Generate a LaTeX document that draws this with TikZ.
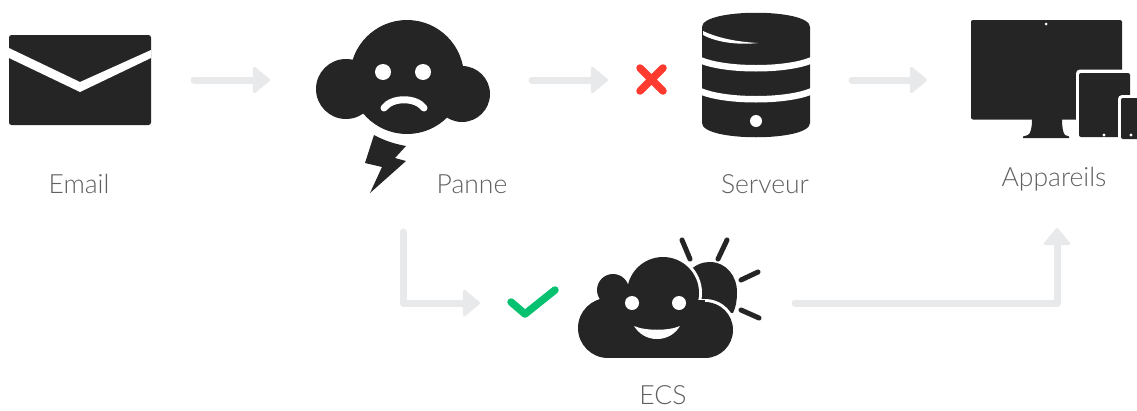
\documentclass[tikz,border=0pt]{standalone}
\usepackage{fontspec}
\setmainfont{Lato}[UprightFont=* Light]
\usetikzlibrary{arrows.meta}
\definecolor{ink}{HTML}{252525}
\definecolor{flowgray}{HTML}{E8E9EA}
\definecolor{labelgray}{HTML}{606060}
\definecolor{okgreen}{HTML}{06C270}
\definecolor{badred}{HTML}{FF3B30}
\tikzset{
  flow/.style={draw=flowgray,line width=7pt,line cap=round,line join=round,-{Triangle[round,length=18pt,width=29pt,line width=3pt,fill=flowgray]}},
  label/.style={anchor=base,text=labelgray,font=\fontsize{26.5}{30}\selectfont,inner sep=0pt},
  icon/.style={fill=ink,draw=none},
  cut/.style={draw=white,line cap=round},
  hole/.style={fill=white,draw=none}
}
\begin{document}
\begin{tikzpicture}[x=1pt,y=-1pt]
\useasboundingbox (0,0) rectangle (1137,410);
% email
\fill[icon,rounded corners=2.5pt] (9,35) rectangle (151,125);
\fill[white] (9,48) -- (80,82) -- (151,50) -- (151,58) -- (80,92) -- (9,58) -- cycle;
% sad cloud
\fill[icon] (407,77) circle[radius=57pt] (346,89) circle[radius=30pt] (462,94) circle[radius=28pt];
\fill[hole] (383,72) circle[radius=8pt] (423,72) circle[radius=8pt];
\draw[cut,line width=7pt] (384,108) .. controls (392,97) and (416,97) .. (424,108);
\fill[icon] (374,135) .. controls (385,141) and (395,144) .. (406,146) -- (395,158) -- (406,161) -- (370,193) -- (382,167) -- (365,163) -- cycle;
% cross
\draw[badred,line width=7.5pt,line cap=round] (640,68) -- (663,91) (663,68) -- (640,91);
% database
\fill[icon] (702,27) .. controls (702,8) and (810,8) .. (810,27) -- (810,123) .. controls (810,142) and (702,142) .. (702,123) -- cycle;
\draw[white,line width=6.5pt] (700,60) .. controls (725,71) and (787,71) .. (812,60);
\draw[white,line width=6.5pt] (700,91) .. controls (725,102) and (787,102) .. (812,91);
\fill[white] (703,31) .. controls (720,39) and (740,42) .. (758,43) .. controls (740,45) and (718,43) .. (703,35) -- cycle;
\fill[hole] (756,121) circle[radius=6pt];
% devices
\fill[icon,rounded corners=2pt] (971,20) rectangle (1122,119.5);
\fill[icon] (1032,119) -- (1062,119) .. controls (1062,127) and (1063,133) .. (1065,135) -- (1069,136.5) -- (1069,138) -- (1023,138) -- (1023,136.5) -- (1028,135) .. controls (1031,133) and (1032,127) .. (1032,119) -- cycle;
\fill[hole] (1046,24) circle[radius=1.5pt];
\fill[white,rounded corners=4pt] (1076,69.5) rectangle (1134,141);
\fill[icon,rounded corners=2pt] (1079,73) rectangle (1130,137);
\fill[white,rounded corners=4pt] (1118,95) rectangle (1140,142);
\fill[icon,rounded corners=2pt] (1121,98) rectangle (1142,139);
\fill[hole] (1104,135) circle[radius=1.7pt] (1131,135) circle[radius=1.7pt];
% check
\draw[okgreen,line width=7.5pt,line cap=round,line join=round] (511,302) -- (525,314) -- (555,290);
% sunny cloud
\draw[ink,line width=5pt,line cap=round] (682,240) -- (690,259) (727,240) -- (718,259) (758,272) -- (741,280) (759,318) -- (741,310);
\fill[icon] (688,272) .. controls (696,264) and (703,262) .. (710,262) .. controls (726,262) and (737,276) .. (737,292) .. controls (737,300) and (736,307) .. (733,313) -- (700,312) -- cycle;
\fill[white] (663,293) circle[radius=39pt] (705,330) circle[radius=31pt];
\fill[icon] (663,293) circle[radius=36pt] (705,330) circle[radius=28pt] (613,290) circle[radius=16pt] (608,328) circle[radius=30pt];
\fill[icon] (608,300) rectangle (705,358);
\fill[hole] (632,303) circle[radius=7pt] (679,303) circle[radius=7pt];
\fill[hole] (634,326) .. controls (645,331) and (669,331) .. (680,326) .. controls (675,334) and (667,339) .. (657,339) .. controls (647,339) and (639,334) .. (634,326) -- cycle;
% anchors
\coordinate (a1s) at (194,80); \coordinate (a1e) at (270,80);
\coordinate (a2s) at (532,80); \coordinate (a2e) at (608,80);
\coordinate (a3s) at (852,80); \coordinate (a3e) at (927,80);
\coordinate (a4s) at (403,232); \coordinate (a4c) at (403,303); \coordinate (a4e) at (480,303);
\coordinate (a5s) at (795,303); \coordinate (a5c) at (1057,303); \coordinate (a5e) at (1057,228);
\draw[flow] (a1s) -- (a1e);
\draw[flow] (a2s) -- (a2e);
\draw[flow] (a3s) -- (a3e);
\draw[flow] (a4s) -- (a4c) -- (a4e);
\draw[flow] (a5s) -- (a5c) -- (a5e);
% labels
\node[label] (email) at (79,193) {Email};
\node[label] (panne) at (472,193) {Panne};
\node[label] (serveur) at (765,193) {Serveur};
\node[label] (appareils) at (1054,186) {Appareils};
\node[label] (ecs) at (663,404) {ECS};
\end{tikzpicture}
\end{document}
